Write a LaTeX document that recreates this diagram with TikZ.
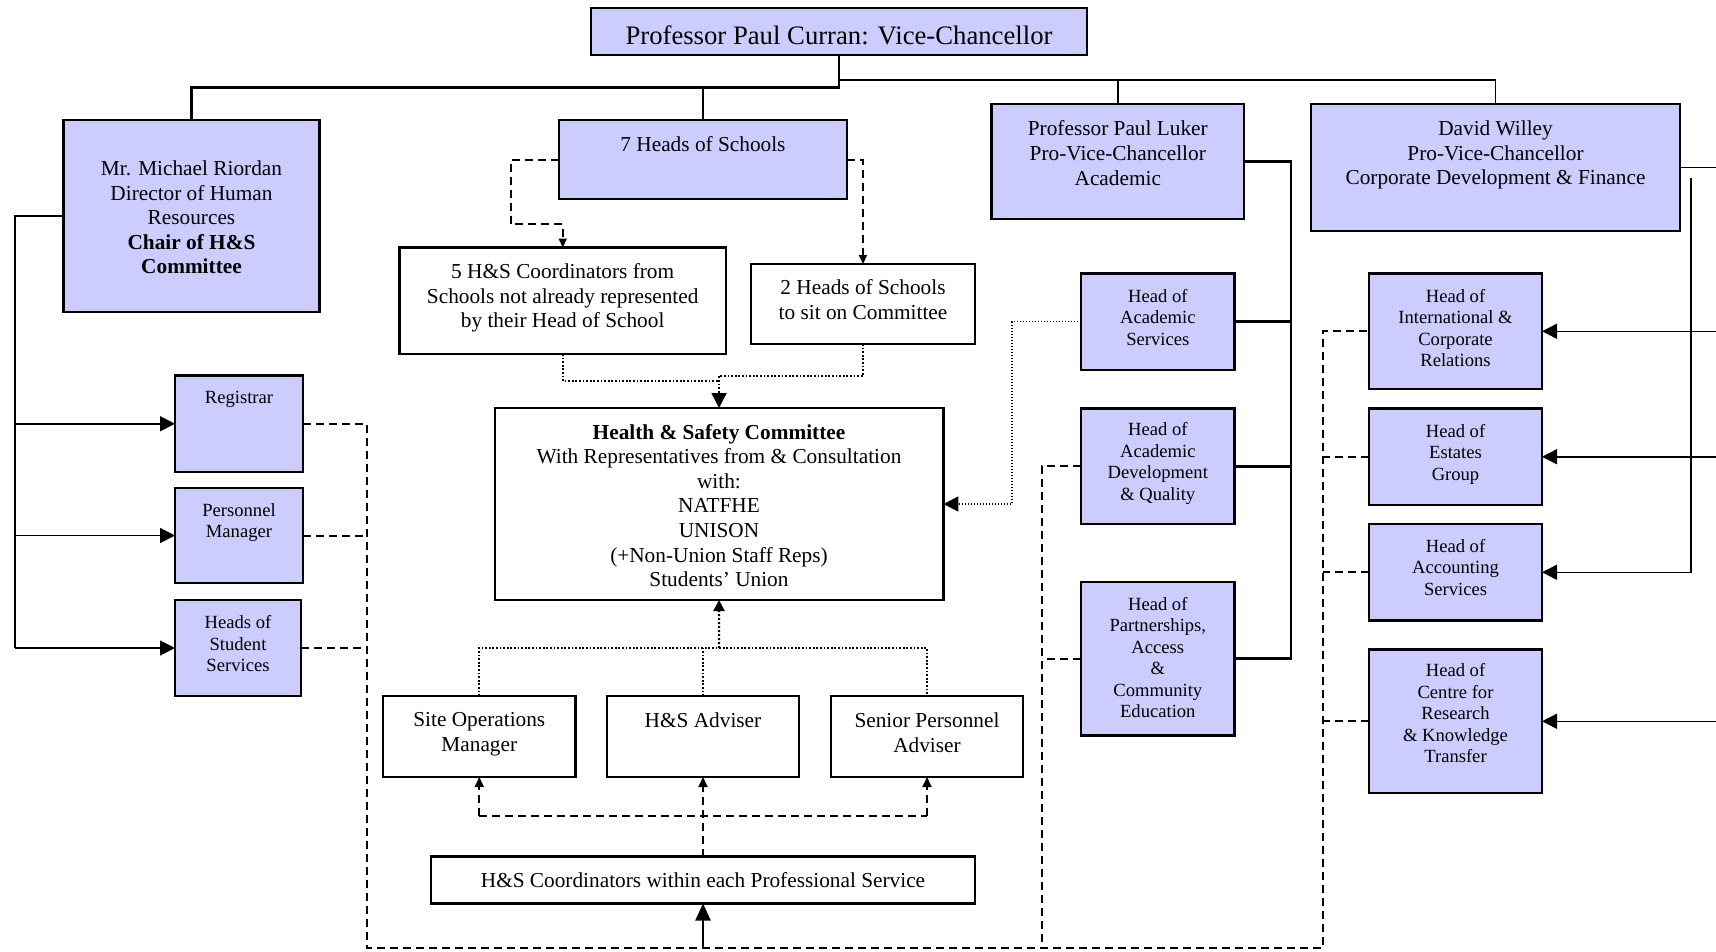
\documentclass[tikz,border=0pt]{standalone}
\usepackage{fontspec}
\setmainfont{Liberation Serif}
\usetikzlibrary{arrows.meta}
\definecolor{lav}{RGB}{204,204,255}
\newcommand\fntA{\fontsize{26.7}{30}\selectfont}
\newcommand\fntB{\fontsize{21.3}{24.6}\selectfont}
\newcommand\fntC{\fontsize{18.6}{21.5}\selectfont}
\tikzset{
  bx/.style={draw, line width=2.2pt, fill=lav, inner sep=0pt, outer sep=0pt, anchor=north west},
  wb/.style={bx, fill=white},
  tx/.style={inner sep=0pt, align=center, font=\fntB},
  ts/.style={inner sep=0pt, align=center, font=\fntC},
  lnA/.style={line width=2.4pt},
  lnB/.style={line width=1.8pt},
  lnC/.style={line width=1.5pt},
  lnD/.style={line width=2.7pt},
  dsh/.style={line width=2pt, dash pattern=on 8pt off 5pt},
  dotln/.style={line width=1.3pt, dash pattern=on 1.4pt off 1.6pt},
  dotlnB/.style={line width=1.8pt, dash pattern=on 1.8pt off 1.8pt},
  dotlnC/.style={line width=2.4pt, dash pattern=on 2pt off 2pt},
  big/.style={-{Triangle[length=15pt,width=15pt]}},
  bigb/.style={-{Triangle[length=17pt,width=15pt]}},
  sml/.style={-{Triangle[length=9pt,width=8pt]}},
  smlb/.style={-{Triangle[length=10pt,width=9pt]}},
  smc/.style={-{Triangle[length=11pt,width=11pt]}},
}
\begin{document}
\begin{tikzpicture}[x=1pt,y=-1pt]
\useasboundingbox (0,0) rectangle (1716,951);
% boxes
\node[bx, minimum width=496pt, minimum height=47pt] (vc) at (591,8) {};
\node[bx, minimum width=256pt, minimum height=192pt] (chair) at (63.5,120) {};
\node[bx, minimum width=288pt, minimum height=79pt] (heads7) at (559,120) {};
\node[bx, minimum width=252.5pt, minimum height=115pt] (luker) at (991.5,104) {};
\node[bx, minimum width=369pt, minimum height=127pt] (willey) at (1311,104) {};
\node[wb, minimum width=326.5pt, minimum height=106.5pt] (coord5) at (399.5,247.5) {};
\node[wb, minimum width=224pt, minimum height=80pt] (heads2) at (751,264) {};
\node[wb, minimum width=448.7pt, minimum height=192pt] (committee) at (494.7,408) {};
\node[bx, minimum width=128pt, minimum height=96.5pt] (registrar) at (175,375.5) {};
\node[bx, minimum width=128pt, minimum height=95pt] (personnel) at (175,488) {};
\node[bx, minimum width=126pt, minimum height=96pt] (hss) at (175,600) {};
\node[wb, minimum width=192.5pt, minimum height=81pt] (siteops) at (383,696) {};
\node[wb, minimum width=192pt, minimum height=81pt] (hsadv) at (607,696) {};
\node[wb, minimum width=192pt, minimum height=81pt] (senior) at (831,696) {};
\node[wb, minimum width=544pt, minimum height=47pt] (coordps) at (431,856.5) {};
\node[bx, minimum width=153.5pt, minimum height=96.5pt] (acs) at (1081,273.5) {};
\node[bx, minimum width=153.5pt, minimum height=115.5pt] (adq) at (1081,408.5) {};
\node[bx, minimum width=153.5pt, minimum height=153.5pt] (pace) at (1081,582) {};
\node[bx, minimum width=173pt, minimum height=115.5pt] (intl) at (1369,273.5) {};
\node[bx, minimum width=173pt, minimum height=96.5pt] (estates) at (1369,408.5) {};
\node[bx, minimum width=173pt, minimum height=96.5pt] (accounting) at (1369,524) {};
\node[bx, minimum width=173pt, minimum height=143.5pt] (crkt) at (1369,649.5) {};
% texts
\node[tx, font=\fntA] (vct) at (839,35) {Professor Paul Curran: Vice-Chancellor};
\node[tx] (chairt) at (191.5,217.5) {Mr. Michael Riordan\\Director of Human\\Resources\\\textbf{Chair of H\&S}\\\textbf{Committee}};
\node[tx] (heads7t) at (703,144.5) {7 Heads of Schools};
\node[tx] (lukert) at (1117.8,153) {Professor Paul Luker\\Pro-Vice-Chancellor\\Academic};
\node[tx] (willeyt) at (1495.5,155) {David Willey\\Pro-Vice-Chancellor\\Corporate Development \& Finance};
\node[tx] (coord5t) at (562.7,298) {5 H\&S Coordinators from\\Schools not already represented\\by their Head of School};
\node[tx] (heads2t) at (863,299.3) {2 Heads of Schools\\to sit on Committee};
\node[tx] (committeet) at (719,505.5) {\textbf{Health \& Safety Committee}\\With Representatives from \& Consultation\\with:\\NATFHE\\UNISON\\(+Non-Union Staff Reps)\\Students’ Union};
\node[ts] (registrart) at (239,399.5) {Registrar};
\node[ts] (personnelt) at (239,522.5) {Personnel\\Manager};
\node[ts] (hsst) at (238,644) {Heads of\\Student\\Services};
\node[tx] (siteopst) at (479.3,734.5) {Site Operations\\Manager};
\node[tx] (hsadvt) at (703,720) {H\&S Adviser};
\node[tx] (seniort) at (927,733) {Senior Personnel\\Adviser};
\node[tx] (coordpst) at (703,880) {H\&S Coordinators within each Professional Service};
\node[ts] (acst) at (1157.8,317.5) {Head of\\Academic\\Services};
\node[ts] (adqt) at (1157.8,463.5) {Head of\\Academic\\Development\\\& Quality};
\node[ts] (pacet) at (1157.8,657.5) {Head of\\Partnerships,\\Access\\\&\\Community\\Education};
\node[ts] (intlt) at (1455.5,328) {Head of\\International \&\\Corporate\\Relations};
\node[ts] (estatest) at (1455.5,454) {Head of\\Estates\\Group};
\node[ts] (accountingt) at (1455.5,567.5) {Head of\\Accounting\\Services};
\node[ts] (crktt) at (1455.5,713.5) {Head of\\Centre for\\Research\\\& Knowledge\\Transfer};
% coordinates
\coordinate (tl) at (0,87.5);
\coordinate (tr) at (0,80);
\coordinate (lb) at (15,0);
\coordinate (dl) at (366.6,948);
\coordinate (dm) at (1042,948);
\coordinate (dr) at (1323,948);
\coordinate (lk) at (1291,0);
\coordinate (re) at (1716,0);
\coordinate (rv) at (1691,178);
\coordinate (dt) at (1012,0);
\coordinate (h7) at (511,224.4);
\coordinate (ya) at (0,381);
\coordinate (yb) at (0,376);
\coordinate (bj) at (719,648);
\coordinate (cj) at (703,815.5);
% top connectors
\draw[lnA] (vc.south) -- (vc.south |- tl) -| (chair.north);
\draw[lnA] (heads7.north) -- (heads7.north |- tl);
\draw[lnA] (vc.south |- tr) -| (luker.north);
\draw[lnB] (luker.north |- tr) -| (willey.north);
% left
\draw[lnB] (chair.west) -- (chair.west -| lb) -- (hss.west -| lb);
\draw[lnB,big] (registrar.west -| lb) -- (registrar.west);
\draw[lnB,big] (personnel.west -| lb) -- (personnel.west);
\draw[lnB,big] (hss.west -| lb) -- (hss.west);
% dashed to bottom
\draw[dsh] (registrar.east) -- (registrar.east -| dl) -- (dl) -- (dr) -- (intl.west -| dr) -- (intl.west);
\draw[dsh] (personnel.east) -- (personnel.east -| dl);
\draw[dsh] (hss.east) -- (hss.east -| dl);
\draw[dsh] (adq.west) -- (adq.west -| dm) -- (dm);
\draw[dsh] (pace.west) -- (pace.west -| dm);
\draw[dsh] (estates.west) -- (estates.west -| dr);
\draw[dsh] (accounting.west) -- (accounting.west -| dr);
\draw[dsh] (crkt.west) -- (crkt.west -| dr);
\draw[lnA,bigb] (coordps.south |- dl) -- (coordps.south);
% Luker
\draw[lnD] (luker.east) -- (luker.east -| lk) -- (pace.east -| lk) -- (pace.east);
\draw[lnD] (acs.east) -- (acs.east -| lk);
\draw[lnD] (adq.east) -- (adq.east -| lk);
% Willey
\draw[lnC] (willey.east) -- (willey.east -| re);
\draw[lnC,big] (intl.east -| re) -- (intl.east);
\draw[lnC,big] (estates.east -| re) -- (estates.east);
\draw[lnC,big] (crkt.east -| re) -- (crkt.east);
\draw[lnC,big] (rv) -- (accounting.east -| rv) -- (accounting.east);
% dotted from academic services
\draw[dotln,big] (acs.west) -- (acs.west -| dt) -- (committee.east -| dt) -- (committee.east);
% heads of schools dashed
\draw[dsh,sml] (heads7.west) -| (h7) -| (coord5.north);
\draw[dsh,sml] (heads7.east) -| (heads2.north);
% dotted into committee top
\draw[dotlnB] (coord5.south) -- (coord5.south |- ya) -- (committee.north |- ya);
\draw[dotlnB,big] (heads2.south) -- (heads2.south |- yb) -- (committee.north |- yb) -- (committee.north);
% dotted bottom into committee
\draw[dotlnB] (siteops.north) -- (siteops.north |- bj) -- (senior.north |- bj) -- (senior.north);
\draw[dotlnB] (hsadv.north) -- (hsadv.north |- bj);
\draw[dotlnC,smc] (bj) -- (committee.south);
% dashed from coordinators
\draw[dsh,smlb] (coordps.north) -- (hsadv.south);
\draw[dsh] (siteops.south |- cj) -- (senior.south |- cj);
\draw[dsh,smlb] (siteops.south |- cj) -- (siteops.south);
\draw[dsh,smlb] (senior.south |- cj) -- (senior.south);
\end{tikzpicture}
\end{document}
